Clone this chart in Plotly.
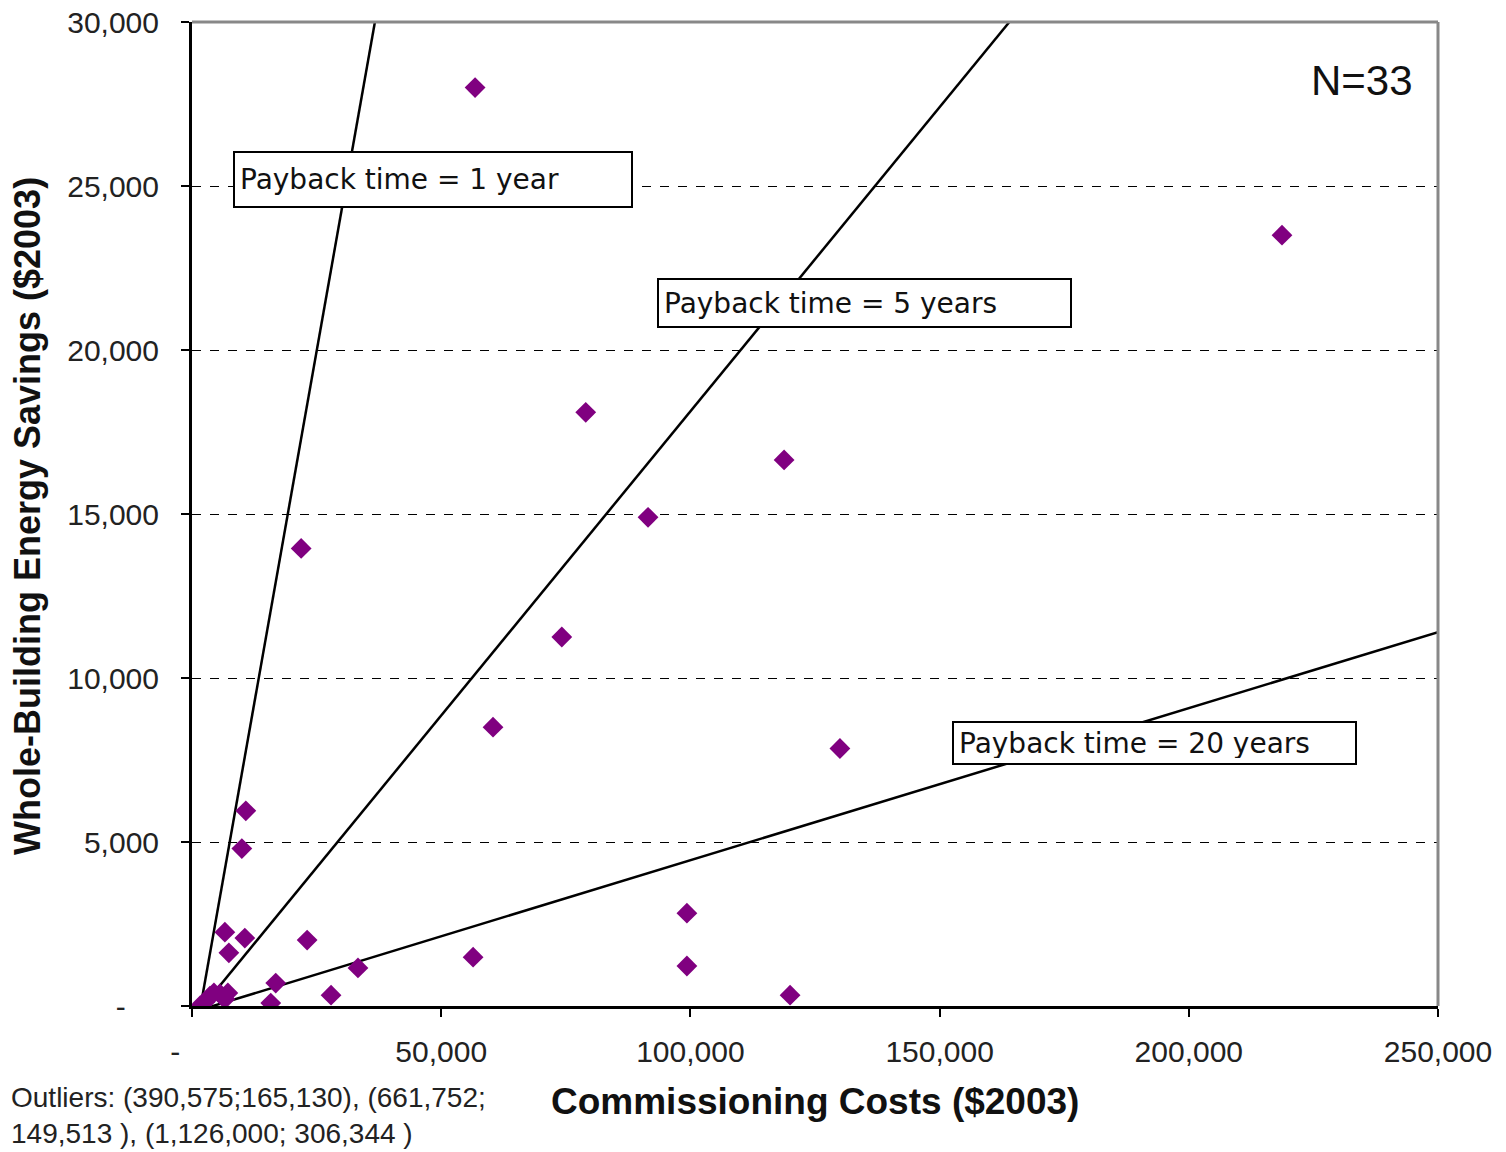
import plotly.graph_objects as go

# Data
cost = [56800, 218700, 79000, 118800, 91500, 21900, 74200, 60400, 130000,
        10800, 10000, 6600, 10600, 7400, 23100, 99300, 56400, 99300, 33300,
        16800, 27900, 15800, 120000,
        1600, 2600, 3600, 4400, 5600, 6600, 7200]
savings = [28000, 23500, 18100, 16650, 14900, 13950, 11250, 8500, 7850,
           5950, 4800, 2250, 2070, 1620, 2010, 2830, 1490, 1220, 1160,
           700, 330, 90, 330,
           0, 120, 300, 400, 370, 210, 400]

# payback reference lines (start and end points as drawn in the reference)
payback_labels = ["Payback time = 1 year", "Payback time = 5 years", "Payback time = 20 years"]
line_cost_start = [1600, 1600, 1600]
line_sav_start = [-120, -120, -120]
line_cost_end = [36700, 164000, 250000]
line_sav_end = [30000, 30000, 11400]

NB = "\u00a0"
x_ticks = [0, 50000, 100000, 150000, 200000, 250000]
x_tick_text = ["-" + NB * 4, "50,000", "100,000", "150,000", "200,000", "250,000"]
y_ticks = [0, 5000, 10000, 15000, 20000, 25000, 30000]
y_tick_text = ["-" + NB * 4, "5,000", "10,000", "15,000", "20,000", "25,000", "30,000"]

outlier_text = "Outliers: (390,575;165,130), (661,752;<br>149,513 ), (1,126,000; 306,344 )"

fig = go.Figure()

for i in range(3):
    fig.add_trace(go.Scatter(
        x=[line_cost_start[i], line_cost_end[i]],
        y=[line_sav_start[i], line_sav_end[i]],
        mode="lines", line=dict(color="black", width=2.5),
        showlegend=False, hoverinfo="skip"))

fig.add_trace(go.Scatter(
    x=cost, y=savings, mode="markers",
    marker=dict(symbol="diamond", size=16, color="#800080",
                line=dict(width=0)),
    showlegend=False))

# page body has an 8px margin; compensate so the plot lands where the reference has it
OFF = 8
W, H = 1506 - OFF, 1152 - OFF
L, R, T, B = 192 - OFF, 1438 - OFF, 22 - OFF, 1006 - OFF
pw, ph = R - L, B - T

def px(xp):
    return (xp - OFF - L) / pw

def py(yp):
    return (B - (yp - OFF)) / ph

fig.update_layout(
    width=W, height=H,
    margin=dict(l=L, r=W - R, t=T, b=H - B, autoexpand=False),
    paper_bgcolor="white", plot_bgcolor="white",
    font=dict(family="Liberation Sans, Arial, sans-serif", color="#222222"),
    xaxis=dict(range=[0, 250000], tickvals=x_ticks, ticktext=x_tick_text,
               showgrid=False, zeroline=False, showline=True, automargin=False,
               linecolor="black", linewidth=3, ticks="outside", ticklen=8,
               tickcolor="black", tickwidth=1.5, tickfont=dict(size=30),
               ticklabelstandoff=9, ticklabeloverflow="allow"),
    yaxis=dict(range=[0, 30000], tickvals=y_ticks, ticktext=y_tick_text,
               showgrid=True, gridcolor="black", gridwidth=1.2, griddash="dash",
               zeroline=False, showline=True, automargin=False,
               linecolor="black", linewidth=3, ticks="outside", ticklen=8,
               tickcolor="black", tickwidth=1.5, tickfont=dict(size=30),
               ticklabelstandoff=16, ticklabeloverflow="allow"),
)

# frame (top and right in gray)
fig.add_shape(type="line", xref="paper", yref="paper", x0=0, x1=1, y0=1, y1=1,
              line=dict(color="#888888", width=3))
fig.add_shape(type="line", xref="paper", yref="paper", x0=1, x1=1, y0=0, y1=1,
              line=dict(color="#888888", width=3))

boxes = [(233, 151, 386, 43), (657, 278, 401, 36), (952, 721, 391, 30)]
for label, (bx, by, bw, bh) in zip(payback_labels, boxes):
    fig.add_annotation(xref="paper", yref="paper", x=px(bx), y=py(by),
                       xanchor="left", yanchor="top", text=label, showarrow=False,
                       align="left", valign="middle", width=bw, height=bh,
                       bgcolor="white", bordercolor="black", borderwidth=2, borderpad=5,
                       font=dict(family="DejaVu Sans, Verdana, sans-serif", size=28, color="#111111"))

fig.add_annotation(xref="paper", yref="paper", x=px(1362), y=py(80),
                   text="N=33", showarrow=False, xanchor="center", yanchor="middle",
                   font=dict(size=42, color="#111111"))

fig.add_annotation(xref="paper", yref="paper", x=px(9), y=py(1080),
                   text=outlier_text, showarrow=False, xanchor="left", yanchor="top",
                   align="left", font=dict(size=28, color="#222222"))

fig.add_annotation(xref="paper", yref="paper", x=px(815), y=py(1101),
                   text="<b>Commissioning Costs ($2003)</b>", showarrow=False,
                   xanchor="center", yanchor="middle",
                   font=dict(size=37, color="#111111"))

fig.add_annotation(xref="paper", yref="paper", x=px(28), y=py(516),
                   text="<b>Whole-Building Energy Savings ($2003)</b>", showarrow=False,
                   textangle=-90, xanchor="center", yanchor="middle",
                   font=dict(family="Liberation Sans Narrow, Arial Narrow, Liberation Sans, Arial, sans-serif",
                             size=36, color="#111111"))

fig.write_html("out.html")
